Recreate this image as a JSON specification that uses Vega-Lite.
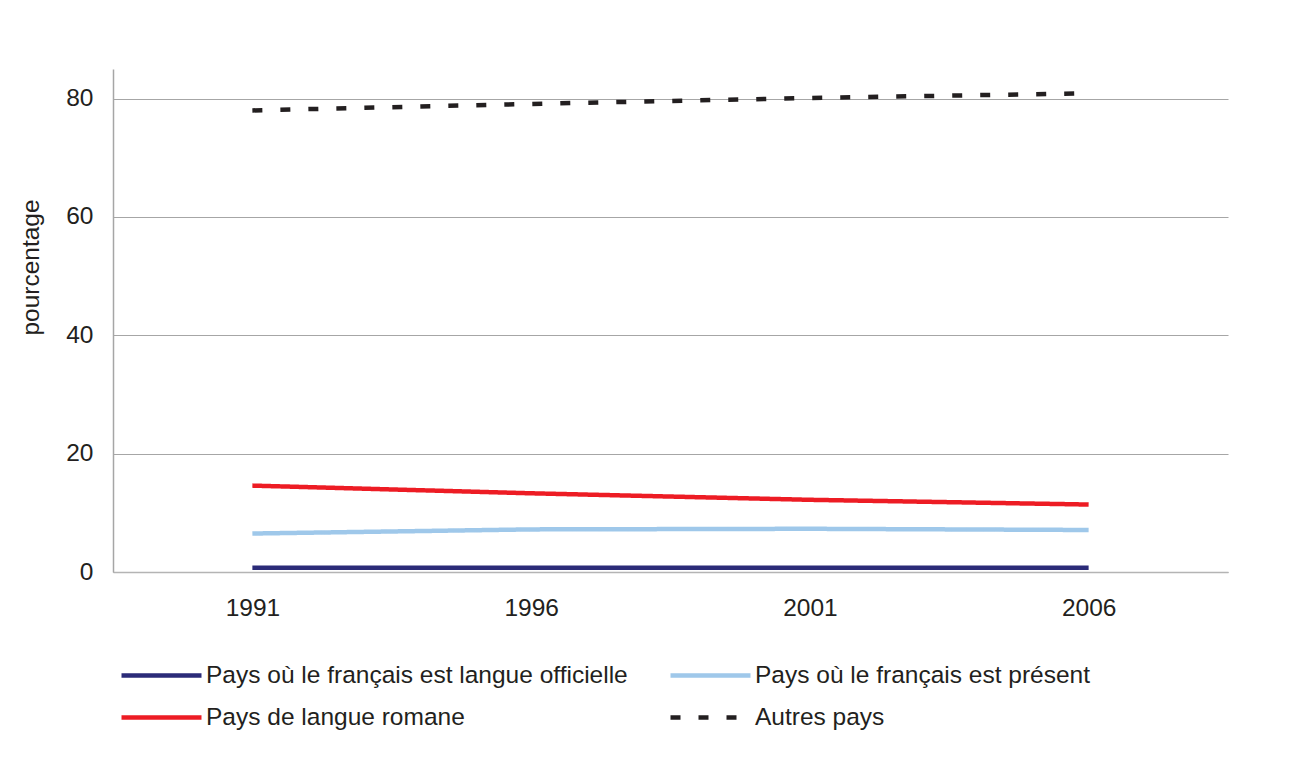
{
  "$schema": "https://vega.github.io/schema/vega-lite/v6.json",
  "autosize": "none",
  "padding": {"left": 113, "top": 69, "right": 79, "bottom": 186},
  "width": 1115,
  "height": 503,
  "background": "white",
  "config": {
    "font": "Liberation Sans",
    "view": {"stroke": null},
    "axis": {"labelFont": "Liberation Sans", "titleFont": "Liberation Sans", "labelColor": "#231f20", "titleColor": "#231f20", "labelFontSize": 24.5, "titleFontSize": 24.5, "titleFontWeight": "normal"},
    "legend": {"labelFont": "Liberation Sans"}
  },
  "data": {
    "values": [
      {"annee": "1991", "groupe": "Pays où le français est langue officielle", "pct": 0.7},
      {"annee": "1996", "groupe": "Pays où le français est langue officielle", "pct": 0.7},
      {"annee": "2001", "groupe": "Pays où le français est langue officielle", "pct": 0.7},
      {"annee": "2006", "groupe": "Pays où le français est langue officielle", "pct": 0.7},
      {"annee": "1991", "groupe": "Pays où le français est présent", "pct": 6.5},
      {"annee": "1996", "groupe": "Pays où le français est présent", "pct": 7.2},
      {"annee": "2001", "groupe": "Pays où le français est présent", "pct": 7.3},
      {"annee": "2006", "groupe": "Pays où le français est présent", "pct": 7.1},
      {"annee": "1991", "groupe": "Pays de langue romane", "pct": 14.6},
      {"annee": "1996", "groupe": "Pays de langue romane", "pct": 13.3},
      {"annee": "2001", "groupe": "Pays de langue romane", "pct": 12.2},
      {"annee": "2006", "groupe": "Pays de langue romane", "pct": 11.4},
      {"annee": "1991", "groupe": "Autres pays", "pct": 78.0},
      {"annee": "1996", "groupe": "Autres pays", "pct": 79.1},
      {"annee": "2001", "groupe": "Autres pays", "pct": 80.1},
      {"annee": "2006", "groupe": "Autres pays", "pct": 80.9}
    ]
  },
  "mark": {"type": "line", "strokeWidth": 4.5, "strokeCap": "butt"},
  "encoding": {
    "x": {
      "field": "annee", "type": "ordinal",
      "scale": {"type": "point", "padding": 0.5},
      "axis": {"title": null, "labelAngle": 0, "ticks": false, "labelPadding": 24, "domainColor": "#b4b4b4", "domainWidth": 1.5, "grid": false}
    },
    "y": {
      "field": "pct", "type": "quantitative",
      "scale": {"domain": [0, 85], "nice": false},
      "axis": {"title": "pourcentage", "values": [0, 20, 40, 60, 80], "ticks": false, "labelPadding": 20, "titlePadding": 22, "titleY": 198, "domainColor": "#a6a6a6", "domainWidth": 1.5, "gridColor": "#a6a6a6", "gridWidth": 1.2}
    },
    "color": {
      "field": "groupe", "type": "nominal",
      "scale": {
        "domain": ["Pays où le français est langue officielle", "Pays où le français est présent", "Pays de langue romane", "Autres pays"],
        "range": ["#2b2b78", "#9fc8ea", "#ed1c24", "#231f20"]
      },
      "legend": {
        "title": null, "orient": "none", "legendX": 36, "legendY": 594, "direction": "horizontal", "columns": 2,
        "symbolType": "M-4,0H4", "symbolSize": 400, "symbolStrokeWidth": 4.5, "symbolFillColor": "transparent", "labelFontSize": 24.5, "labelColor": "#231f20",
        "labelOffset": 32, "columnPadding": 33, "rowPadding": 17, "labelLimit": 700
      }
    },
    "strokeDash": {
      "field": "groupe", "type": "nominal",
      "scale": {
        "domain": ["Pays où le français est langue officielle", "Pays où le français est présent", "Pays de langue romane", "Autres pays"],
        "range": [[1, 0], [1, 0], [1, 0], [10, 18]]
      },
      "legend": null
    }
  }
}
